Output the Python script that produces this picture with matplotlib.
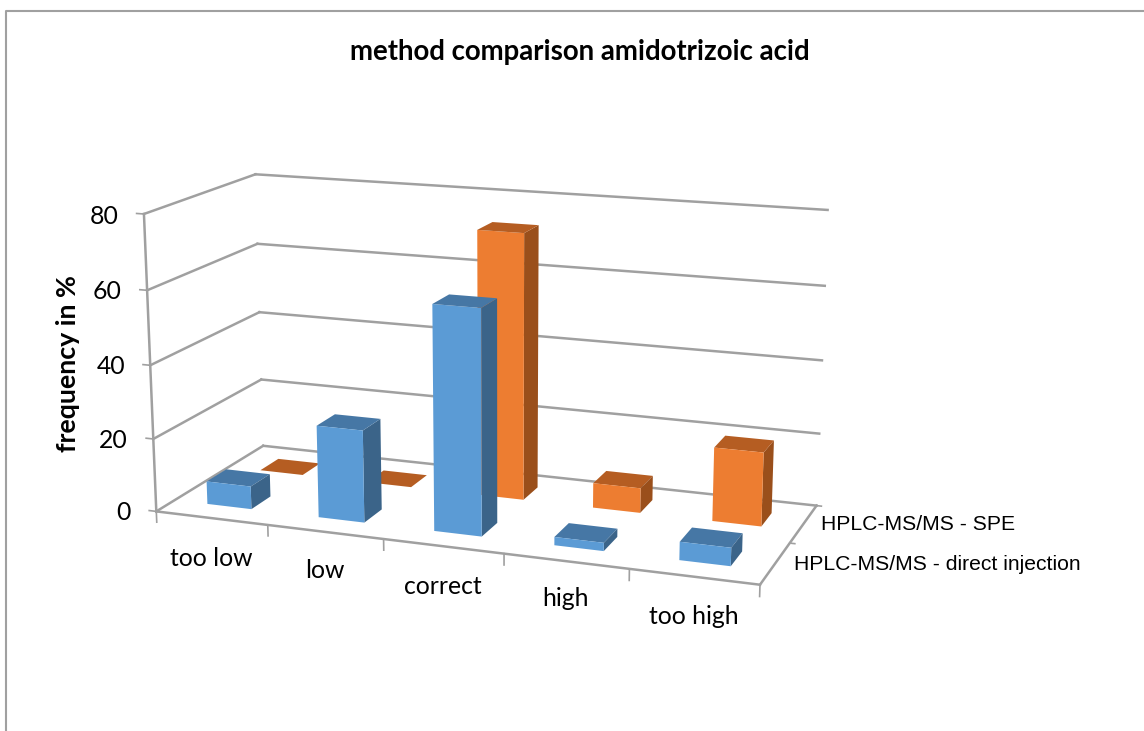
import matplotlib
matplotlib.use('Agg')
import matplotlib.pyplot as plt
from matplotlib.lines import Line2D

title = 'method comparison amidotrizoic acid'
y_label = 'frequency in %'
categories = ['too low', 'low', 'correct', 'high', 'too high']
series_names = ['HPLC-MS/MS - direct injection', 'HPLC-MS/MS - SPE']
direct_injection = [6.3, 25, 60, 2.2, 4.8]
spe = [0, 0, 73, 6.8, 20]
z_ticks = [0, 20, 40, 60, 80]

GRID = '#A0A0A0'
W_PX, H_PX = 1144, 731

# label anchors in picture pixels, the 3d axes has no axis text of its own here
z_label_pos = [(131, 513), (128, 441), (125, 367), (122, 292), (119, 217)]
cat_label_pos = [(211, 558), (325, 570), (443, 586), (566, 599), (694, 617)]
series_label_pos = [(794, 564), (821, 525)]


def put_text(px, py, s, **kw):
    fig.text(px / W_PX, 1 - py / H_PX, s, **kw)


fig = plt.figure(figsize=(W_PX / 100, H_PX / 100), dpi=100)
ax = fig.add_axes([119.1 / W_PX, 0.1 / H_PX, 716.8 / W_PX, 716.8 / H_PX], projection='3d')
ax.set_xlim(0, 5, view_margin=0)
ax.set_ylim(0, 2, view_margin=0)
ax.set_zlim(0, 80, view_margin=0)
ax.view_init(14.492, -69.697, 0.109)
ax.set_proj_type('persp', focal_length=0.567)
ax.set_box_aspect((1, 0.395, 0.49))
ax.set_axis_off()
ax.patch.set_alpha(0)

# chart area border, only top and left show in the picture
fig.add_artist(Line2D([5.5 / W_PX, 5.5 / W_PX, 1], [0, 1 - 10.5 / H_PX, 1 - 10.5 / H_PX],
                      color='#A0A0A0', lw=1.5))

# walls and floor
for z in z_ticks:
    ax.plot([0, 0], [0, 2], [z, z], color=GRID, lw=1.8)
    ax.plot([0, 5], [2, 2], [z, z], color=GRID, lw=1.8)
    ax.plot([-0.065, 0], [0, 0], [z, z], color=GRID, lw=1.2)
ax.plot([0, 5], [0, 0], [0, 0], color=GRID, lw=1.8)
ax.plot([5, 5], [0, 2], [0, 0], color=GRID, lw=1.8)
ax.plot([0, 0], [0, 0], [0, 80], color=GRID, lw=1.8)
for i in range(len(categories) + 1):
    ax.plot([i, i], [0, 0], [0, -3], color=GRID, lw=1.2)
for y in [1, 2]:
    ax.plot([5, 5.04], [y, y], [0, 0], color=GRID, lw=1.2)

# bars, back row first
ax.computed_zorder = False
for vals, y0, cols, zo in [(spe, 1.32, ('#ED7D31', '#B55D22', '#9A4F1B'), 5),
                           (direct_injection, 0.32, ('#5B9BD5', '#4677A5', '#3B6489'), 6)]:
    front, top, side = cols
    for i, v in enumerate(vals):
        ax.bar3d(i + 0.3, y0, 0, 0.4, 0.36, v, shade=False,
                 color=['none', top, front, 'none', 'none', side], linewidth=0, zorder=zo)

for z, (px, py) in zip(z_ticks, z_label_pos):
    put_text(px, py, str(z), family='Lato', fontsize=17.8, ha='right', va='center')
for name, (px, py) in zip(categories, cat_label_pos):
    put_text(px, py, name, family='Lato', fontsize=17.8, ha='center', va='center')
for name, (px, py) in zip(series_names, series_label_pos):
    put_text(px, py, name, family='Liberation Sans', fontsize=15.2, ha='left', va='center')

put_text(580, 52, title, family='Lato', weight='bold', fontsize=19.9, ha='center', va='center')
put_text(68, 363.5, y_label, family='Lato', weight='bold', fontsize=19.3, rotation=90, ha='center', va='center')

fig.savefig('out.png', dpi=100)
